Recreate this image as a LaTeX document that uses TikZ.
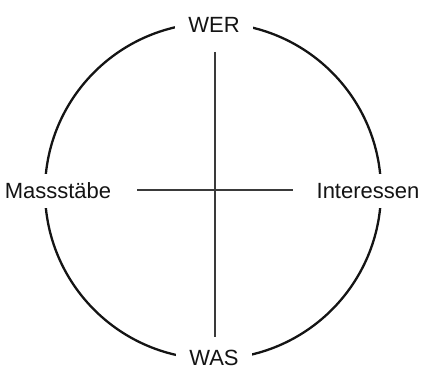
\documentclass[tikz,border=0pt]{standalone}
\usepackage{fontspec}
\setmainfont{Liberation Sans}
\usepackage{tikz}
\usetikzlibrary{positioning}
\definecolor{ink}{HTML}{141414}
\definecolor{rule}{HTML}{3A3A3A}

\begin{document}
\begin{tikzpicture}[x=1pt,y=-1pt,font=\fontsize{22}{24}\selectfont]
\useasboundingbox (0,0) rectangle (423,369);
\coordinate (M) at (213,191);
\draw[ink,line width=2.3pt] (M) circle (168);
% Achsen
\coordinate (top) at (215,52); \coordinate (bot) at (215,337);
\coordinate (lft) at (137,190); \coordinate (rgt) at (293,190);
\draw[rule,line width=1.3pt] (top)--(bot);
\draw[rule,line width=1.3pt] (lft)--(rgt);
% Beschriftungen
\node[fill=white,inner xsep=13pt,inner ysep=4pt,text=ink] (wer) at (214,25) {WER};
\node[fill=white,inner xsep=13pt,inner ysep=4pt,text=ink] (was) at (214,358) {WAS};
\node[fill=white,inner xsep=2pt,inner ysep=9pt,text=ink] (massstaebe) at (58,191) {Massstäbe};
\node[fill=white,inner xsep=2pt,inner ysep=9pt,text=ink] (interessen) at (368,191) {Interessen};
\end{tikzpicture}
\end{document}
